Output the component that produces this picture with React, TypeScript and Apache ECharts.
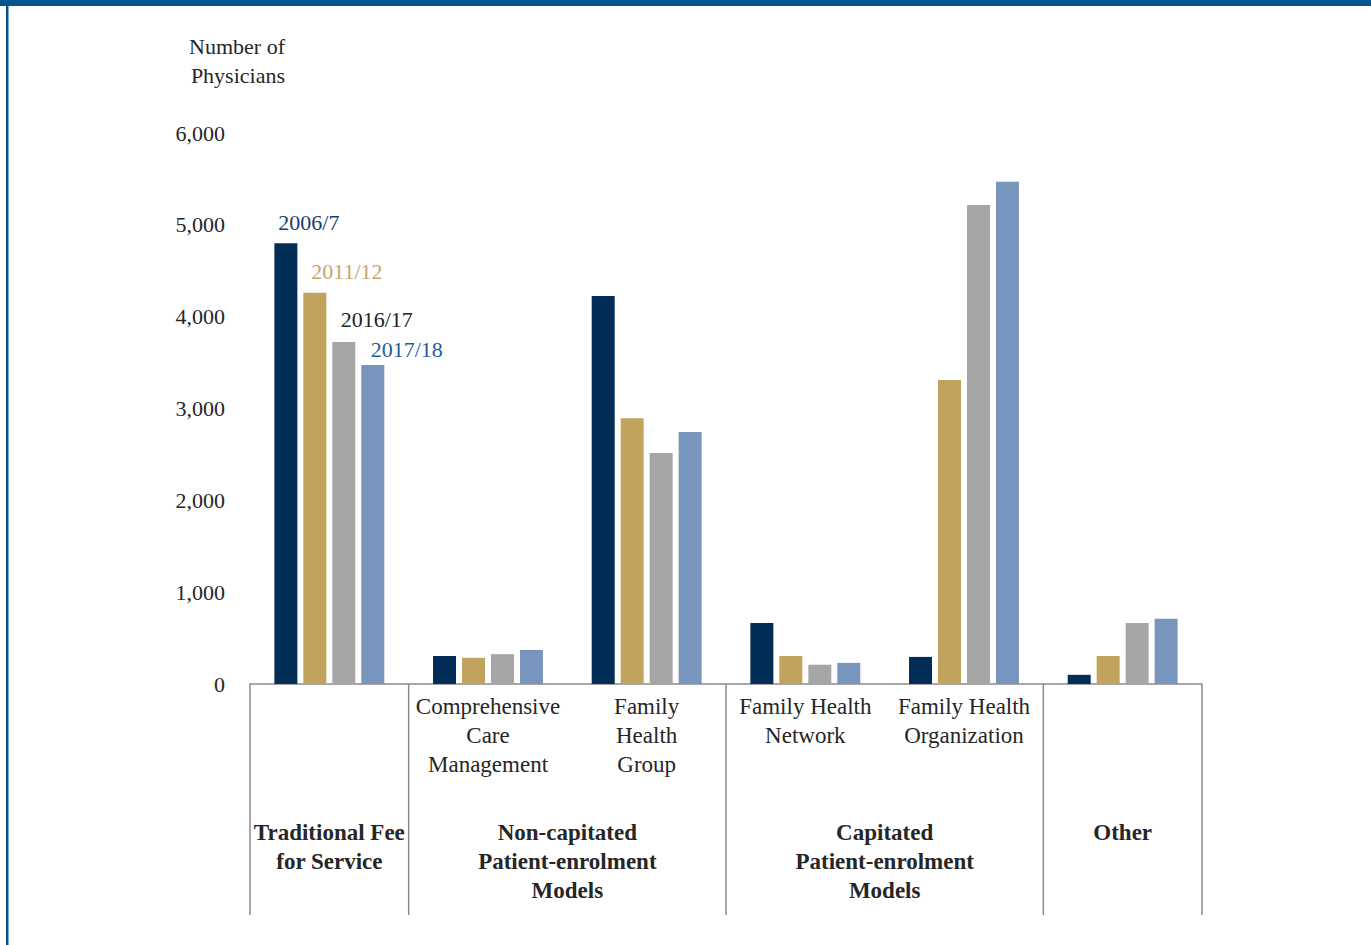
import React, { useEffect, useRef } from 'react';
import * as echarts from 'echarts';

const categories = ['', 'Comprehensive\nCare\nManagement', 'Family\nHealth\nGroup', 'Family Health\nNetwork', 'Family Health\nOrganization', ''];
const seriesNames = ['2006/7', '2011/12', '2016/17', '2017/18'];
const v2006 = [4800, 305, 4225, 665, 295, 100];
const v2011 = [4260, 285, 2895, 305, 3310, 305];
const v2016 = [3725, 325, 2515, 210, 5215, 665];
const v2017 = [3475, 370, 2745, 230, 5470, 710];
const seriesValues = [v2006, v2011, v2016, v2017];
const groupLabels = ['Traditional Fee\nfor Service', 'Non-capitated\nPatient-enrolment\nModels', 'Capitated\nPatient-enrolment\nModels', 'Other'];
const groupStart = [0, 1, 3, 5];
const groupEnd = [0, 2, 4, 5];
const yTitle = 'Number of\nPhysicians';

const barColors = ['#022d56', '#c2a35e', '#a6a6a6', '#7895bd'];
const labelColors = ['#1b3d6a', '#c4a66a', '#222222', '#1f5e9a'];
const labelOffsets = [23, 32, 33, 34];
const labelDistances = [10, 10, 11, 4];
const FONT = 'Liberation Serif';

export default function App() {
  const ref = useRef<HTMLDivElement>(null);
  useEffect(() => {
    if (!ref.current) return;
    const chart = echarts.init(ref.current, null, { renderer: 'svg' });
    const series = seriesNames.map((name, si) => ({
      type: 'bar',
      name,
      barWidth: 23,
      barGap: '26%',
      itemStyle: { color: barColors[si] },
      data: seriesValues[si].map((v, i) =>
        i === 0
          ? {
              value: v,
              label: {
                show: true,
                position: 'top',
                distance: labelDistances[si],
                offset: [labelOffsets[si], 0],
                formatter: name,
                color: labelColors[si],
                fontFamily: FONT,
                fontSize: 22,
              },
            }
          : v
      ),
    }));
    chart.setOption({
      animation: false,
      grid: { left: 250, right: 169, top: 133, bottom: 261 },
      xAxis: {
        type: 'category',
        data: categories,
        axisLine: { lineStyle: { color: '#8a8a8a', width: 1.5 } },
        axisTick: { show: false },
        axisLabel: {
          interval: 0,
          margin: 8,
          fontFamily: FONT,
          fontSize: 23,
          lineHeight: 29,
          color: '#262626',
          verticalAlign: 'top',
        },
      },
      yAxis: {
        type: 'value',
        min: 0,
        max: 6000,
        interval: 1000,
        axisLine: { show: false },
        axisTick: { show: false },
        splitLine: { show: false },
        axisLabel: {
          margin: 25,
          fontFamily: FONT,
          fontSize: 22,
          color: '#262626',
          formatter: (v: number) => v.toLocaleString('en-US'),
        },
      },
      series,
    });

    const c0 = chart.convertToPixel({ xAxisIndex: 0 }, 0) as number;
    const c1 = chart.convertToPixel({ xAxisIndex: 0 }, 1) as number;
    const band = c1 - c0;
    const y0 = chart.convertToPixel({ yAxisIndex: 0 }, 0) as number;
    const edge = (i: number) => c0 - band / 2 + i * band;
    const graphics: any[] = [
      { type: 'rect', shape: { x: 0, y: 0, width: 1371, height: 6 }, style: { fill: '#02558f' } },
      { type: 'rect', shape: { x: 6, y: 0, width: 2.5, height: 945 }, style: { fill: '#02558f' } },
      {
        type: 'text',
        x: 285,
        y: 32,
        style: { text: yTitle, font: `22px "${FONT}"`, lineHeight: 29, fill: '#262626', align: 'right', verticalAlign: 'top' },
      },
    ];
    const bounds = [groupStart[0]].concat(groupEnd.map((e) => e + 1));
    bounds.forEach((b) => {
      const x = edge(b);
      graphics.push({
        type: 'line',
        shape: { x1: x, y1: y0, x2: x, y2: y0 + 231 },
        style: { stroke: '#8a8a8a', lineWidth: 1.5 },
      });
    });
    groupLabels.forEach((g, gi) => {
      const cx = (edge(groupStart[gi]) + edge(groupEnd[gi] + 1)) / 2;
      graphics.push({
        type: 'text',
        x: cx,
        y: y0 + 133.5,
        style: {
          text: g,
          font: `bold 23px "${FONT}"`,
          lineHeight: 29,
          fill: '#262626',
          align: 'center',
          verticalAlign: 'top',
        },
      });
    });
    chart.setOption({ graphic: graphics });
    return () => chart.dispose();
  }, []);
  return <div ref={ref} style={{ position: 'fixed', left: 0, top: 0, width: 1371, height: 945, background: '#fff' }} />;
}
